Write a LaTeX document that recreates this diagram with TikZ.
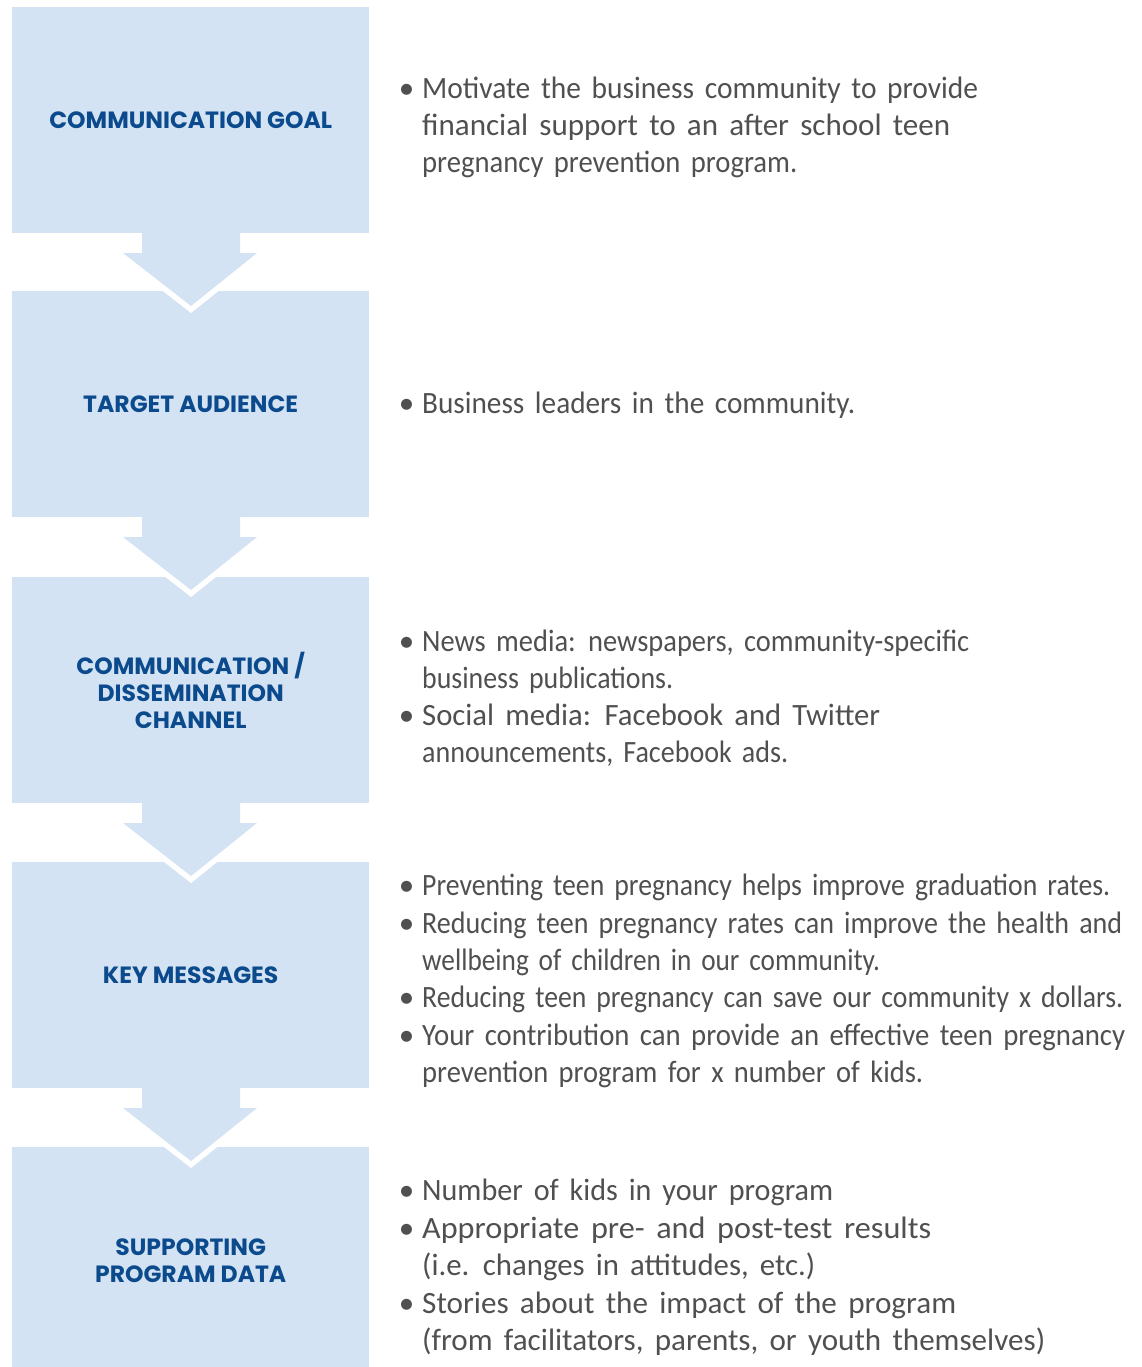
\documentclass[tikz,border=0pt]{standalone}
\usepackage{fontspec}
\usepackage{graphicx}
\newfontfamily\labelfont{Poppins}
\newfontfamily\bodyfont[WordSpace=1.6]{Carlito}
\definecolor{boxblue}{HTML}{D3E3F3}
\definecolor{labelblue}{HTML}{0B4A8C}
\definecolor{bodygrey}{HTML}{505050}
\tikzset{
  stagebox/.style={fill=boxblue, draw=none},
  stagelabel/.style={font=\labelfont\bfseries\fontsize{23.5}{27}\selectfont, text=labelblue, align=center, inner sep=0pt},
  bodyline/.style={font=\bodyfont\fontsize{31}{37}\selectfont, text=bodygrey, anchor=base west, inner sep=0pt},
  arrowgap/.style={draw=white, line width=11pt, line join=miter},
  arrowfill/.style={fill=boxblue, draw=none}
}
\newlength\fitw
\newcommand{\fitline}[2]{\settowidth{\fitw}{#2}\pgfmathsetmacro\fitf{#1/\fitw}\scalebox{\fitf}[1]{#2}}
\newcommand{\bul}{\llap{\textbullet\hspace{8pt}}}
\begin{document}
\begin{tikzpicture}[x=1pt,y=-1pt]
\useasboundingbox (0,0) rectangle (1142,1367);
% boxes
\foreach \t/\n in {7/b1,291/b2,577/b3,862/b4,1147/b5}{
  \node[stagebox, minimum width=357pt, minimum height=226pt, inner sep=0pt, anchor=north west] (\n) at (12,\t) {};
}
% arrows between boxes
\foreach \b in {233,517,803,1088}{
  \draw[arrowgap] (123,\b+20) -- (191,\b+73) -- (257,\b+20);
  \fill[arrowfill] (142,\b) -- (142,\b+20) -- (123,\b+20) -- (191,\b+73) -- (257,\b+20) -- (240,\b+20) -- (240,\b) -- cycle;
}
% labels
\node[stagelabel] (l1) at (b1.center) {COMMUNICATION GOAL};
\node[stagelabel] (l2) at (b2.center) {TARGET AUDIENCE};
\node[stagelabel] (l3) at (b3.center) {COMMUNICATION /\\DISSEMINATION\\CHANNEL};
\node[stagelabel] (l4) at (b4.center) {KEY MESSAGES};
\node[stagelabel] (l5) at (b5.center) {SUPPORTING\\PROGRAM DATA};
% body text
\node[bodyline] (g1) at (422,99) {\bul\fitline{556}{Motivate the business community to provide}};
\node[bodyline] (g2) at (422,136) {\fitline{528}{financial support to an after school teen}};
\node[bodyline] (g3) at (422,173) {\fitline{375}{pregnancy prevention program.}};
\node[bodyline] (a1) at (422,413) {\bul\fitline{433}{Business leaders in the community.}};
\node[bodyline] (c1) at (422,651) {\bul\fitline{547}{News media: newspapers, community-specific}};
\node[bodyline] (c2) at (422,688) {\fitline{251}{business publications.}};
\node[bodyline] (c3) at (422,725) {\bul\fitline{458}{Social media: Facebook and Twitter}};
\node[bodyline] (c4) at (422,762) {\fitline{366}{announcements, Facebook ads.}};
\node[bodyline] (k1) at (422,895) {\bul\fitline{688}{Preventing teen pregnancy helps improve graduation rates.}};
\node[bodyline] (k2) at (422,933) {\bul\fitline{700}{Reducing teen pregnancy rates can improve the health and}};
\node[bodyline] (k3) at (422,970) {\fitline{458}{wellbeing of children in our community.}};
\node[bodyline] (k4) at (422,1007) {\bul\fitline{701}{Reducing teen pregnancy can save our community x dollars.}};
\node[bodyline] (k5) at (422,1045) {\bul\fitline{703}{Your contribution can provide an effective teen pregnancy}};
\node[bodyline] (k6) at (422,1082) {\fitline{501}{prevention program for x number of kids.}};
\node[bodyline] (s1) at (422,1200) {\bul\fitline{411}{Number of kids in your program}};
\node[bodyline] (s2) at (422,1238) {\bul\fitline{509}{Appropriate pre- and post-test results}};
\node[bodyline] (s3) at (422,1275) {\fitline{393}{(i.e. changes in attitudes, etc.)}};
\node[bodyline] (s4) at (422,1313) {\bul\fitline{534}{Stories about the impact of the program}};
\node[bodyline] (s5) at (422,1350) {\fitline{623}{(from facilitators, parents, or youth themselves)}};
\end{tikzpicture}
\end{document}
